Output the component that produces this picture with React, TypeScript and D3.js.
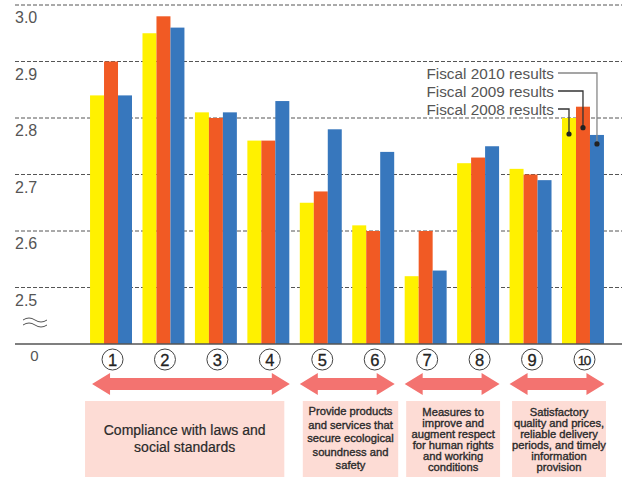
import React from "react";
import * as d3 from "d3";

const categories = ["1", "2", "3", "4", "5", "6", "7", "8", "9", "10"];
const fy2008 = [2.84, 2.95, 2.81, 2.76, 2.65, 2.61, 2.52, 2.72, 2.71, 2.8];
const fy2009 = [2.9, 2.98, 2.8, 2.76, 2.67, 2.6, 2.6, 2.73, 2.7, 2.82];
const fy2010 = [2.84, 2.96, 2.81, 2.83, 2.78, 2.74, 2.53, 2.75, 2.69, 2.77];
const seriesNames = ["Fiscal 2008 results", "Fiscal 2009 results", "Fiscal 2010 results"];
const yTicks = [3.0, 2.9, 2.8, 2.7, 2.6, 2.5];
const groupRanges: [number, number][] = [[0, 3], [4, 5], [6, 7], [8, 9]];
const groupLabels: string[][] = [
  ["Compliance with laws and", "social standards"],
  ["Provide products", "and services that", "secure ecological", "soundness and", "safety"],
  ["Measures to", "improve and", "augment respect", "for human rights", "and working", "conditions"],
  ["Satisfactory", "quality and prices,", "reliable delivery", "periods, and timely", "information", "provision"],
];

const W = 622;
const H = 477;
const COLORS = ["#fff100", "#f15a24", "#3777bd"];
const FONT = "'Liberation Sans', Arial, Helvetica, sans-serif";
// layout tweaks (not data)
const boxOffsets: [number, number][] = [[-5, -5], [3, 4], [1.5, 1], [2.5, 2]];
const boxLayout = [
  { size: 14, lh: 17, y0: 435, weight: 0.2 },
  { size: 11.2, lh: 13.5, y0: 415, weight: 0.35 },
  { size: 11.2, lh: 11, y0: 415.5, weight: 0.35 },
  { size: 11.2, lh: 11, y0: 416, weight: 0.35 },
];
const legendRowY = [109, 91, 73];
const legendDotDrop = [16, 21, 9];
const legendLineColor = ["#333", "#333", "#888"];

export default function App() {
  const series = [fy2008, fy2009, fy2010];
  const x = d3
    .scaleBand<string>()
    .domain(categories)
    .range([84.8, 609.2])
    .paddingInner(0.2)
    .paddingOuter(0.1);
  const xs = d3
    .scaleBand<number>()
    .domain([0, 1, 2])
    .range([0, x.bandwidth()]);
  const y = d3.scaleLinear().domain([2.4, 3.0]).range([344, 5]);
  const baseY = y(2.4);
  const arrowY = 384;

  const arrowPath = (x0: number, x1: number) => {
    const hl = 18, hh = 11, sh = 6;
    return `M${x0},${arrowY} L${x0 + hl},${arrowY - hh} L${x0 + hl},${arrowY - sh} L${x1 - hl},${arrowY - sh} L${x1 - hl},${arrowY - hh} L${x1},${arrowY} L${x1 - hl},${arrowY + hh} L${x1 - hl},${arrowY + sh} L${x0 + hl},${arrowY + sh} L${x0 + hl},${arrowY + hh} Z`;
  };

  const lastCat = categories[categories.length - 1];
  const legendTextX = 554;

  return (
    <div style={{ position: "fixed", left: 0, top: 0 }}>
      <svg width={W} height={H} style={{ display: "block", background: "#fff" }} fontFamily={FONT}>
        {/* gridlines */}
        {yTicks.map((t) => (
          <g key={t}>
            <line x1={15} x2={W} y1={y(t)} y2={y(t)} stroke="#555" strokeWidth={1} strokeDasharray="4,2" />
            <text x={15} y={y(t) + 18.3} fontSize={16} fill="#555">
              {t.toFixed(1)}
            </text>
          </g>
        ))}
        {/* break symbol */}
        <path d="M23,320 q6,-4 12,0 t12,0 M23,325 q6,-4 12,0 t12,0" fill="none" stroke="#555" strokeWidth={1} />
        <text x={34.5} y={361} fontSize={15} fill="#555" textAnchor="middle">0</text>

        {/* bars */}
        {categories.map((c, i) => (
          <g key={c} transform={`translate(${x(c)},0)`}>
            {series.map((s, k) => (
              <rect key={k} x={xs(k)} width={xs.bandwidth()} y={y(s[i])} height={baseY - y(s[i])} fill={COLORS[k]} />
            ))}
          </g>
        ))}
        {/* baseline */}
        <line x1={15} x2={W} y1={baseY} y2={baseY} stroke="#555" strokeWidth={1.5} />

        {/* circled numbers */}
        {categories.map((c) => {
          const cx = (x(c) as number) + x.bandwidth() / 2 + 1.5;
          const two = c.length > 1;
          return (
            <g key={c}>
              <circle cx={cx} cy={359.5} r={10.5} fill="#fff" stroke="#444" strokeWidth={1} />
              <text
                x={cx + (two ? -0.6 : 0)}
                y={two ? 364.8 : 365.6}
                fontSize={two ? 13.5 : 16.5}
                textAnchor="middle"
                fill="#222"
                stroke="#222"
                strokeWidth={0.3}
                letterSpacing={two ? -1.4 : 0}
              >
                {c}
              </text>
            </g>
          );
        })}

        {/* legend annotations */}
        {seriesNames.map((name, k) => {
          const ly = legendRowY[k];
          const bx = (x(lastCat) as number) + (xs(k) as number) + xs.bandwidth() / 2;
          const dy = y(series[k][categories.length - 1]) + legendDotDrop[k];
          return (
            <g key={name}>
              <text x={legendTextX} y={ly + 5.5} fontSize={15.3} fill="#555" textAnchor="end">
                {name}
              </text>
              <path d={`M${legendTextX + 4},${ly} L${bx},${ly} L${bx},${dy}`} fill="none" stroke={legendLineColor[k]} strokeWidth={1.3} />
              <circle cx={bx} cy={dy} r={2.6} fill="#222" />
            </g>
          );
        })}

        {/* arrows and boxes */}
        {groupRanges.map(([a, b], gi) => {
          const x0 = x(categories[a]) as number;
          const x1 = (x(categories[b]) as number) + x.bandwidth();
          const ax0 = gi === 0 ? x0 + 2 : x0;
          const bx0 = x0 + boxOffsets[gi][0];
          const bx1 = x1 + boxOffsets[gi][1];
          const L = boxLayout[gi];
          const cx = (bx0 + bx1) / 2;
          return (
            <g key={gi}>
              <path d={arrowPath(ax0, x1 + 0.5)} fill="#f37370" />
              <rect x={bx0} y={401} width={bx1 - bx0} height={H - 401 + 5} fill="#fddcd5" />
              {groupLabels[gi].map((line, li) => (
                <text
                  key={li}
                  x={cx}
                  y={L.y0 + li * L.lh}
                  fontSize={L.size}
                  textAnchor="middle"
                  fill="#2a2a2a"
                  stroke="#2a2a2a"
                  strokeWidth={L.weight}
                >
                  {line}
                </text>
              ))}
            </g>
          );
        })}
      </svg>
    </div>
  );
}
